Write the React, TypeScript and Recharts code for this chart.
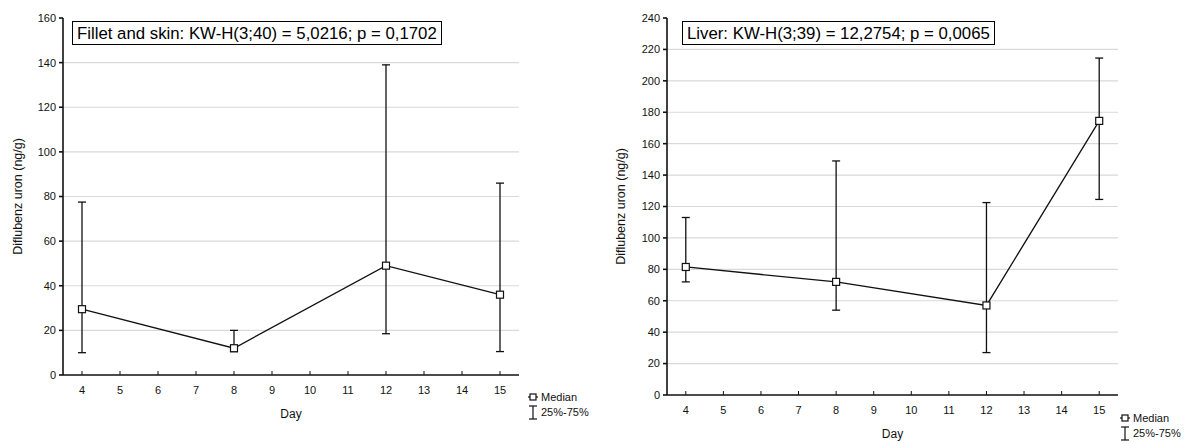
import React from "react";
import { ComposedChart, Line, XAxis, YAxis, CartesianGrid, ErrorBar } from "recharts";

const days = [4, 8, 12, 15];
const dayTicks = [4, 5, 6, 7, 8, 9, 10, 11, 12, 13, 14, 15];

const filletMedian = [29.5, 12, 49, 36];
const filletQ25 = [10, 10.5, 18.5, 10.5];
const filletQ75 = [77.5, 20, 139, 86];
const filletTicks = [0, 20, 40, 60, 80, 100, 120, 140, 160];
const filletGrid = [20, 40, 60, 80, 100, 120, 140];

const liverMedian = [81.5, 72, 57, 174.5];
const liverQ25 = [72, 54, 27, 124.5];
const liverQ75 = [113, 149, 122.5, 214.5];
const liverTicks = [0, 20, 40, 60, 80, 100, 120, 140, 160, 180, 200, 220, 240];
const liverGrid = [20, 40, 60, 80, 100, 120, 140, 160, 180, 200, 220];

const FONT = '"Liberation Sans", Arial, sans-serif';
const INK = "#111";

function buildRows(med: number[], q25: number[], q75: number[]) {
  return days.map((d, i) => ({
    day: d,
    median: med[i],
    iqr: [med[i] - q25[i], q75[i] - med[i]],
  }));
}

const SquareDot = (props: any) => {
  const { cx, cy } = props;
  if (cx == null || cy == null) return null;
  return <rect x={cx - 3.5} y={cy - 3.5} width={7} height={7} fill="#fff" stroke={INK} strokeWidth={1.2} />;
};

const XTick = (props: any) => {
  const { x, y, payload } = props;
  return (
    <g>
      <line x1={x} x2={x} y1={y - 4} y2={y} stroke={INK} strokeWidth={1} />
      <text x={x} y={y + 19} textAnchor="middle" fontSize={11} fontFamily={FONT} fill={INK}>
        {payload.value}
      </text>
    </g>
  );
};

const YLabel = (props: any) => {
  const { viewBox, xPos } = props;
  const cy = viewBox.y + viewBox.height / 2;
  return (
    <text
      x={xPos}
      y={cy}
      transform={`rotate(-90, ${xPos}, ${cy})`}
      textAnchor="middle"
      dominantBaseline="central"
      fontSize={12.5}
      fontFamily={FONT}
      fill={INK}
    >
      Diflubenz uron (ng/g)
    </text>
  );
};

type PanelProps = {
  left: number;
  width: number;
  rows: any[];
  yTicks: number[];
  yMax: number;
  gridVals: number[];
  margin: { top: number; right: number; left: number; bottom: number };
  yAxisWidth: number;
  labelX: number;
  title: string;
  titleBox: { left: number; top: number };
  legend: { left: number; top: number };
};

function Panel(p: PanelProps) {
  return (
    <div style={{ position: "absolute", left: p.left, top: 0, width: p.width, height: 444 }}>
      <ComposedChart width={p.width} height={444} data={p.rows} margin={p.margin}>
        <CartesianGrid
          vertical={false}
          horizontalValues={p.gridVals}
          stroke="#d9d9d9"
          strokeWidth={1.2}
        />
        <XAxis
          dataKey="day"
          type="number"
          domain={[3.5, 15.5]}
          ticks={dayTicks}
          interval={0}
          allowDataOverflow
          height={45}
          tickLine={false}
          tickSize={0}
          tickMargin={0}
          tick={<XTick />}
          stroke={INK}
          strokeWidth={1.6}
          label={{ value: "Day", position: "insideBottom", offset: 2, fontSize: 12, fontFamily: FONT, fill: INK }}
        />
        <YAxis
          type="number"
          domain={[0, p.yMax]}
          ticks={p.yTicks}
          interval={0}
          width={p.yAxisWidth}
          tickSize={4}
          tickMargin={3}
          stroke={INK}
          strokeWidth={1.6}
          tick={{ fontSize: 11, fontFamily: FONT, fill: INK }}
          label={<YLabel xPos={p.labelX} />}
        />
        <Line
          dataKey="median"
          stroke={INK}
          strokeWidth={1.3}
          dot={<SquareDot />}
          activeDot={false}
          isAnimationActive={false}
        >
          <ErrorBar dataKey="iqr" direction="y" width={4} stroke={INK} strokeWidth={1.3} />
        </Line>
      </ComposedChart>
      <div
        style={{
          position: "absolute",
          left: p.titleBox.left,
          top: p.titleBox.top,
          border: "1.5px solid #000",
          background: "#fff",
          padding: "1px 4px 0px 4px",
          fontFamily: FONT,
          fontSize: 16.8,
          color: "#000",
          whiteSpace: "nowrap",
          lineHeight: "21px",
        }}
      >
        {p.title}
      </div>
      <div style={{ position: "absolute", left: p.legend.left, top: p.legend.top, fontFamily: FONT, fontSize: 11, color: INK }}>
        <div style={{ display: "flex", alignItems: "center", height: 15 }}>
          <svg width={10} height={10} style={{ marginRight: 3 }}>
            <line x1={0} x2={10} y1={5} y2={5} stroke={INK} strokeWidth={1.2} />
            <rect x={2} y={2} width={6} height={6} fill="#fff" stroke={INK} strokeWidth={1.2} />
          </svg>
          <span>Median</span>
        </div>
        <div style={{ display: "flex", alignItems: "center", height: 16 }}>
          <svg width={10} height={15} style={{ marginRight: 3 }}>
            <line x1={5} x2={5} y1={1} y2={14} stroke={INK} strokeWidth={1.2} />
            <line x1={1} x2={9} y1={1} y2={1} stroke={INK} strokeWidth={1.2} />
            <line x1={1} x2={9} y1={14} y2={14} stroke={INK} strokeWidth={1.2} />
          </svg>
          <span>25%-75%</span>
        </div>
      </div>
    </div>
  );
}

export default function App() {
  const filletRows = buildRows(filletMedian, filletQ25, filletQ75);
  const liverRows = buildRows(liverMedian, liverQ25, liverQ75);
  return (
    <div style={{ position: "fixed", left: 0, top: 0, width: 1195, height: 444, background: "#fff", overflow: "hidden" }}>
      <Panel
        left={0}
        width={600}
        rows={filletRows}
        yTicks={filletTicks}
        yMax={160}
        gridVals={filletGrid}
        margin={{ top: 18, right: 81, left: 0, bottom: 24 }}
        yAxisWidth={63}
        labelX={18}
        title="Fillet and skin: KW-H(3;40) = 5,0216; p = 0,1702"
        titleBox={{ left: 72, top: 21 }}
        legend={{ left: 528, top: 389 }}
      />
      <Panel
        left={600}
        width={595}
        rows={liverRows}
        yTicks={liverTicks}
        yMax={240}
        gridVals={liverGrid}
        margin={{ top: 18, right: 77, left: 0, bottom: 4 }}
        yAxisWidth={67}
        labelX={21}
        title="Liver: KW-H(3;39) = 12,2754; p = 0,0065"
        titleBox={{ left: 82, top: 21 }}
        legend={{ left: 520, top: 410 }}
      />
    </div>
  );
}
